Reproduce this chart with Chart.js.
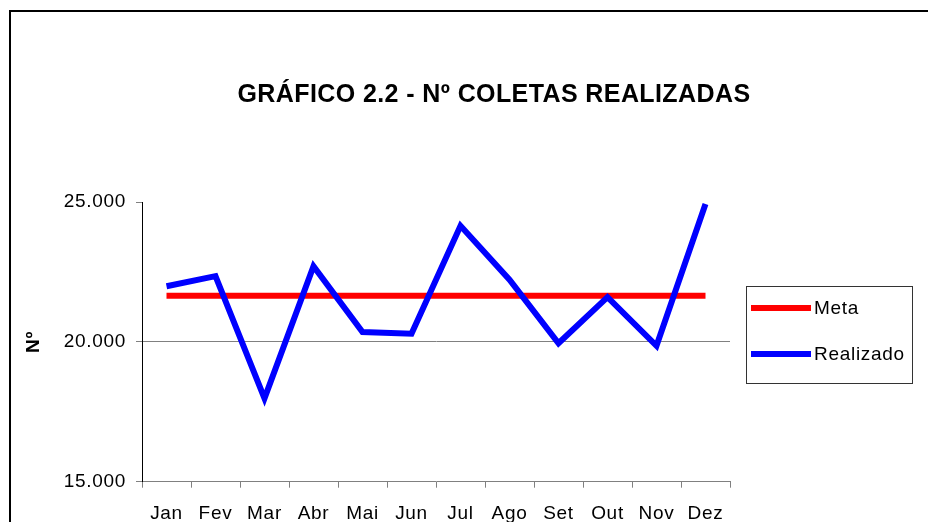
<!DOCTYPE html>
<html>
<head>
<meta charset="utf-8">
<script src="https://cdn.jsdelivr.net/npm/chart.js@4/dist/chart.umd.min.js"></script>
<style>
  html, body { margin: 0; padding: 0; background: #fff; overflow: hidden; }
  #wrap { position: relative; width: 928px; height: 522px; }
</style>
</head>
<body>
<div id="wrap"><canvas id="lineChart" width="928" height="522"></canvas></div>
<script>
var meses = ["Jan", "Fev", "Mar", "Abr", "Mai", "Jun", "Jul", "Ago", "Set", "Out", "Nov", "Dez"];
var meta = [21650, 21650, 21650, 21650, 21650, 21650, 21650, 21650, 21650, 21650, 21650, 21650];
var realizado = [21990, 22350, 17980, 22700, 20350, 20290, 24150, 22220, 19950, 21600, 19860, 24930];
var yTicks = [15000, 20000, 25000];
var titulo = "GRÁFICO 2.2 - Nº COLETAS REALIZADAS";

var fonte = "'Liberation Sans', Arial, sans-serif";

function formatNum(v) {
    return String(v).replace(/\B(?=(\d{3})+(?!\d))/g, ".");
}

// moldura, titulo e legenda desenhados a mao
var extras = {
    id: 'extras',
    beforeDraw: function (chart) {
        chart.ctx.letterSpacing = "0.7px";
    },
    afterDraw: function (chart) {
        var c = chart.ctx;
        c.save();
        c.strokeStyle = "#000";
        c.lineWidth = 2;
        c.strokeRect(10, 11, 1000, 1000);

        c.fillStyle = "#000";
        c.textAlign = "center";
        c.textBaseline = "middle";
        c.letterSpacing = "0.4px";
        c.font = "bold 25px " + fonte;
        c.fillText(titulo, 494, 95);

        c.textAlign = "left";
        c.letterSpacing = "0.7px";
        c.strokeStyle = "#333";
        c.lineWidth = 1;
        c.strokeRect(746.5, 286.5, 166, 97);
        c.font = "19px " + fonte;
        var ys = [308, 354];
        chart.data.datasets.forEach(function (ds, i) {
            c.strokeStyle = ds.borderColor;
            c.lineWidth = 6;
            c.beginPath();
            c.moveTo(751, ys[i]);
            c.lineTo(811, ys[i]);
            c.stroke();
            c.fillText(ds.label, 814, ys[i] + 1);
        });
        c.restore();
    }
};

var ctx = document.getElementById("lineChart");
var myLineChart = new Chart(ctx, {
    type: 'line',
    data: {
        labels: meses,
        datasets: [{
            label: "Meta",
            data: meta,
            borderColor: "#FF0000",
            borderWidth: 6,
            pointRadius: 0,
            tension: 0,
            order: 1
        }, {
            label: "Realizado",
            data: realizado,
            borderColor: "#0000FF",
            borderWidth: 6,
            pointRadius: 0,
            tension: 0,
            borderJoinStyle: 'miter',
            order: 0
        }]
    },
    options: {
        responsive: false,
        animation: false,
        layout: { padding: { left: 22, right: 198, top: 202, bottom: 0 } },
        plugins: {
            legend: { display: false },
            tooltip: { enabled: false },
            title: { display: false }
        },
        scales: {
            x: {
                offset: true,
                grid: { offset: true, drawOnChartArea: false, tickLength: 6, color: "#808080" },
                border: { color: "#808080", width: 1 },
                ticks: {
                    color: "#000",
                    padding: 15,
                    maxRotation: 0,
                    font: { family: fonte, size: 19 }
                },
                afterFit: function (s) { s.height = 40.3; }
            },
            y: {
                min: 15000,
                max: 25000,
                afterBuildTicks: function (s) {
                    s.ticks = yTicks.map(function (v) { return { value: v }; });
                },
                grid: {
                    tickLength: 6,
                    tickColor: "#808080",
                    color: function (c) {
                        return c.tick && c.tick.value === 20000 ? "#808080" : "rgba(0,0,0,0)";
                    }
                },
                border: { color: "#000", width: 1 },
                ticks: {
                    color: "#000",
                    padding: 10,
                    font: { family: fonte, size: 19 },
                    callback: function (v) { return formatNum(v); }
                },
                title: {
                    display: true,
                    text: "Nº",
                    color: "#000",
                    padding: 0,
                    font: { family: fonte, size: 19, weight: 'bold' }
                },
                afterFit: function (s) { s.width = 120; }
            }
        }
    },
    plugins: [extras]
});
</script>
</body>
</html>
